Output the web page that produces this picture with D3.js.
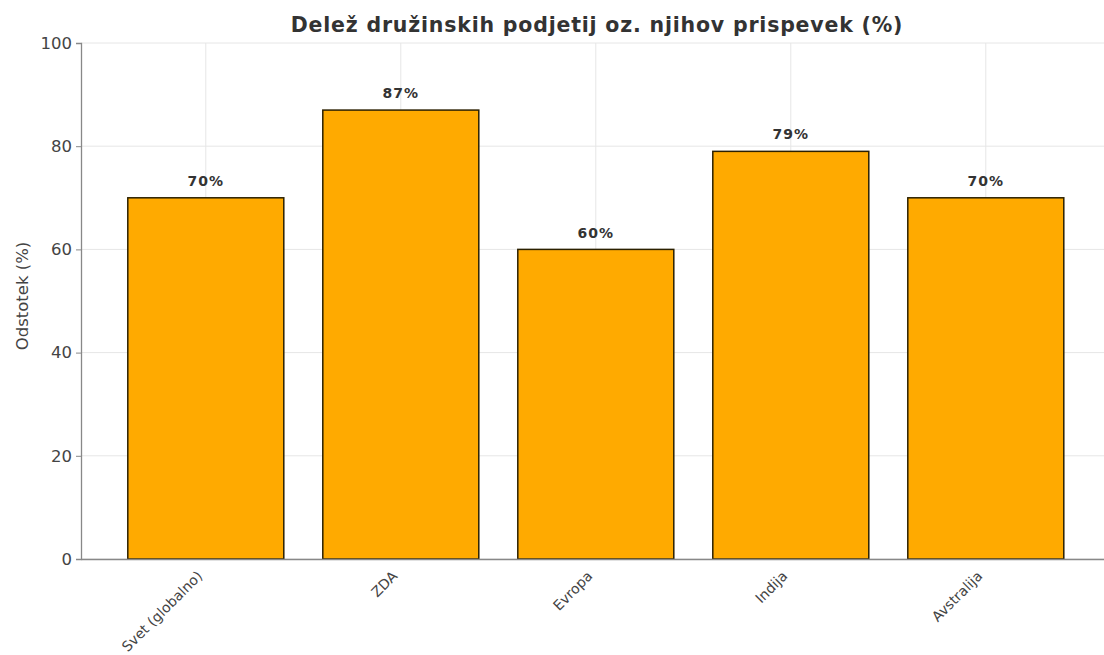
<!DOCTYPE html>
<html>
<head>
<meta charset="utf-8">
<script src="https://cdn.jsdelivr.net/npm/d3@7"></script>
<style>
  body { margin: 0; background: #fff; overflow: hidden; }
  text { font-family: "DejaVu Sans", sans-serif; }
</style>
</head>
<body>
<div id="viz"></div>
<script>
var categories = ["Svet (globalno)", "ZDA", "Evropa", "Indija", "Avstralija"];
var values = [70, 87, 60, 79, 70];
var yTicks = [0, 20, 40, 60, 80, 100];
var title = "Delež družinskih podjetij oz. njihov prispevek (%)";
var yLabel = "Odstotek (%)";

var width = 1104, height = 655;
var margin = { top: 43, left: 81, bottom: 96 };
var step = 195;

var svg = d3.select("#viz").append("svg")
    .attr("width", width)
    .attr("height", height);

// same x limits as matplotlib gives for bars: -0.64 .. n-1+0.64
var xScale = d3.scaleLinear()
    .domain([-0.64, categories.length - 1 + 0.64])
    .range([margin.left, margin.left + step * (categories.length - 1 + 1.28)]);
var yScale = d3.scaleLinear()
    .domain([0, 100])
    .range([height - margin.bottom, margin.top]);

var plotRight = xScale.range()[1];

// grid
var grid = svg.append("g");
grid.selectAll(".gy").data(yTicks).enter().append("line")
    .attr("x1", margin.left).attr("x2", plotRight)
    .attr("y1", function (d) { return yScale(d); })
    .attr("y2", function (d) { return yScale(d); })
    .attr("stroke", "#e6e6e6").attr("stroke-width", 1);
grid.selectAll(".gx").data(categories).enter().append("line")
    .attr("x1", function (d, i) { return xScale(i); })
    .attr("x2", function (d, i) { return xScale(i); })
    .attr("y1", yScale(0)).attr("y2", yScale(100))
    .attr("stroke", "#e6e6e6").attr("stroke-width", 1);

// bars
var bw = xScale(0.4) - xScale(-0.4);
svg.selectAll(".bar").data(values).enter().append("rect")
    .attr("x", function (d, i) { return xScale(i) - bw / 2; })
    .attr("y", function (d) { return yScale(d); })
    .attr("width", bw)
    .attr("height", function (d) { return yScale(0) - yScale(d); })
    .attr("fill", "#ffaa00")
    .attr("stroke", "#2b2000")
    .attr("stroke-width", 1.5);

// value labels
svg.selectAll(".val").data(values).enter().append("text")
    .attr("x", function (d, i) { return xScale(i); })
    .attr("y", function (d) { return yScale(d + 2.3); })
    .attr("text-anchor", "middle")
    .attr("font-size", 14)
    .attr("font-weight", "bold")
    .attr("letter-spacing", 1)
    .attr("fill", "#333")
    .text(function (d) { return d + "%"; });

// axes
var yAxis = d3.axisLeft(yScale).tickValues(yTicks).tickSize(5).tickPadding(4);
var gy = svg.append("g")
    .attr("transform", "translate(" + margin.left + ",0)")
    .call(yAxis);
gy.select(".domain").attr("stroke", "#888").attr("stroke-width", 1.3);
gy.selectAll(".tick line").attr("stroke", "#888");
gy.selectAll(".tick text").attr("font-size", 16.5).attr("fill", "#444")
    .style("font-family", "DejaVu Sans, sans-serif");

var xAxis = d3.axisBottom(xScale)
    .tickValues(d3.range(categories.length))
    .tickFormat(function (i) { return categories[i]; })
    .tickSize(0).tickPadding(0);
var gx = svg.append("g")
    .attr("transform", "translate(0," + yScale(0) + ")")
    .call(xAxis);
gx.select(".domain").attr("stroke", "#888").attr("stroke-width", 1.3);
gx.selectAll(".tick text")
    .attr("font-size", 14)
    .attr("fill", "#444")
    .style("font-family", "DejaVu Sans, sans-serif")
    .attr("text-anchor", "end")
    .attr("y", 0)
    .attr("dy", 0)
    .attr("transform", "translate(-3,18) rotate(-45)");

// title and y label
svg.append("text")
    .attr("x", 597).attr("y", 32)
    .attr("text-anchor", "middle")
    .attr("font-size", 20.5)
    .attr("font-weight", "bold")
    .attr("letter-spacing", 0.8)
    .attr("fill", "#333")
    .text(title);

svg.append("text")
    .attr("transform", "translate(28,296) rotate(-90)")
    .attr("text-anchor", "middle")
    .attr("font-size", 16.5)
    .attr("fill", "#444")
    .text(yLabel);
</script>
</body>
</html>
